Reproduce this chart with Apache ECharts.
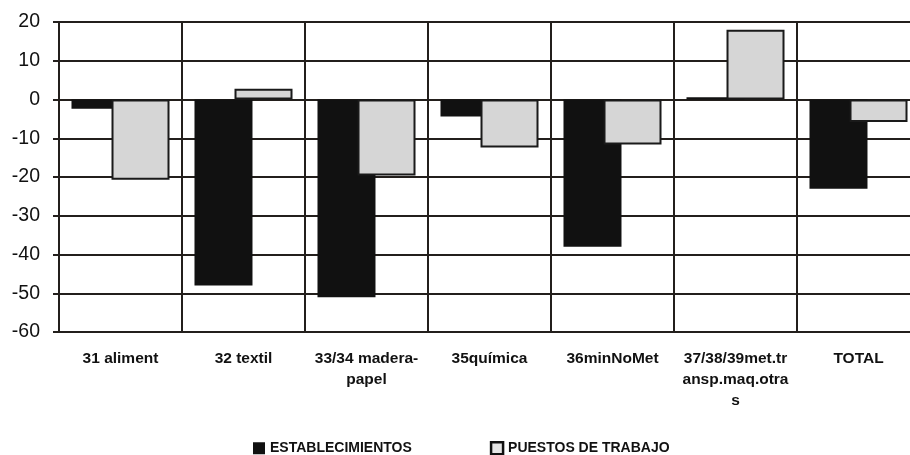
<!DOCTYPE html>
<html>
<head>
<meta charset="utf-8">
<script src="https://cdn.jsdelivr.net/npm/echarts@6/dist/echarts.min.js"></script>
<style>html,body{margin:0;padding:0;background:#fff}#c{width:910px;height:455px}</style>
</head>
<body>
<div id="c"></div>
<script>
var categories = ['31 aliment', '32 textil', '33/34 madera-\npapel', '35química', '36minNoMet', '37/38/39met.tr\nansp.maq.otra\ns', 'TOTAL'];
var establecimientos = [-2.4, -48, -51, -4.4, -38, 0.6, -23];
var puestos = [-20.7, 2.8, -19.6, -12.4, -11.6, 18, -5.8];
var yTicks = {min: -60, max: 20, interval: 10};

var lineColor = '#231f1c';
var chart = echarts.init(document.getElementById('c'));
chart.setOption({
  animation: false,
  backgroundColor: '#fff',
  textStyle: {fontFamily: 'Liberation Sans, Arial, sans-serif'},
  grid: {left: 59, width: 861, top: 22, height: 310, containLabel: false, outerBoundsMode: 'none'},
  legend: {
    left: 248, top: 436, itemWidth: 12, itemHeight: 12, itemGap: 78,
    textStyle: {fontSize: 14, fontWeight: 'bold', color: '#111'},
    data: [
      {name: 'ESTABLECIMIENTOS', icon: 'rect', itemStyle: {color: '#111', borderWidth: 0}},
      {name: 'PUESTOS DE TRABAJO', icon: 'rect', itemStyle: {color: '#e6e6e6', borderColor: '#111', borderWidth: 2.5}}
    ]
  },
  xAxis: {
    type: 'category',
    data: categories,
    axisLine: {onZero: false, lineStyle: {color: lineColor, width: 2}},
    axisTick: {show: false},
    splitLine: {show: true, lineStyle: {color: lineColor, width: 2}},
    axisLabel: {interval: 0, margin: 16, fontSize: 15.5, fontWeight: 'bold', color: '#111', lineHeight: 21, align: 'center'}
  },
  yAxis: {
    type: 'value',
    min: yTicks.min, max: yTicks.max, interval: yTicks.interval,
    axisLine: {show: true, lineStyle: {color: lineColor, width: 2}},
    axisTick: {show: true, length: 6, lineStyle: {color: lineColor, width: 2}},
    splitLine: {show: true, lineStyle: {color: lineColor, width: 2}},
    axisLabel: {fontSize: 19.5, color: '#111', margin: 19}
  },
  series: [
    {name: 'ESTABLECIMIENTOS', type: 'bar', data: establecimientos, barWidth: 58, barGap: '-31%',
     itemStyle: {color: '#111'}},
    {name: 'PUESTOS DE TRABAJO', type: 'bar', data: puestos, barWidth: 58,
     itemStyle: {color: '#d6d6d6', borderColor: '#1a1a1a', borderWidth: 2}}
  ]
});
</script>
</body>
</html>
